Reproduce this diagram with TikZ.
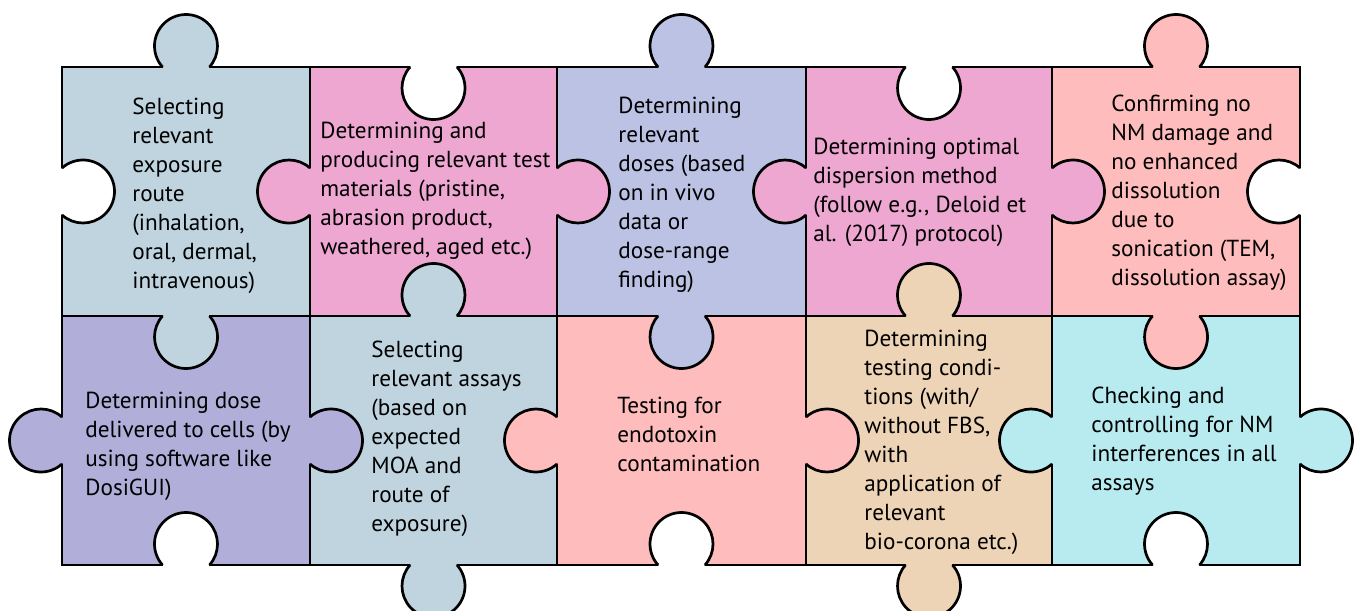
\documentclass[tikz,border=0pt]{standalone}
\usepackage{fontspec}
\setmainfont{PT Sans}
\usepackage{tikz}
\usepackage{xcolor}
\usetikzlibrary{calc}
\definecolor{ExposureBlue}{HTML}{BFD4DF}
\definecolor{MaterialPink}{HTML}{EDA7D1}
\definecolor{DoseLavender}{HTML}{BCC2E3}
\definecolor{SonicationRose}{HTML}{FEBCBC}
\definecolor{DosimetryPurple}{HTML}{B1AFD9}
\definecolor{ConditionPeach}{HTML}{EED4B7}
\definecolor{InterferenceCyan}{HTML}{B8EBF0}
\tikzstyle{PuzzleBorder} =[draw=black,line width=1.35pt]
\tikzstyle{PieceText} =[anchor=west,align=left,inner sep=0pt,font=\fontsize{11.6}{14.5}\selectfont]
\newcommand{\CreatePuzzleKnob}[3]{
    \fill[#3] let \p{knob_centre}=($(#1)+(#2:21)$) in (\p{knob_centre}) circle[radius=31.5];
    \draw[PuzzleBorder] let \p{knob_centre}=($(#1)+(#2:21)$),
        \p{knob_start}=($(\p{knob_centre})+(#2-131.8:31.5)$)
        in (\p{knob_start}) arc[start angle=#2-131.8, end angle=#2+131.8, radius=31.5];}

\begin{document}
\begin{tikzpicture}[x=0.5pt,y=-0.5pt]
    \useasboundingbox (0,0) rectangle (1358,610);

    % upper row of pieces
    \filldraw[PuzzleBorder,fill=ExposureBlue] (62,67) rectangle (310,316);
    \filldraw[PuzzleBorder,fill=MaterialPink] (310,67) rectangle (557,316);
    \filldraw[PuzzleBorder,fill=DoseLavender] (557,67) rectangle (806,316);
    \filldraw[PuzzleBorder,fill=MaterialPink] (806,67) rectangle (1052,316);
    \filldraw[PuzzleBorder,fill=SonicationRose] (1052,67) rectangle (1300,316);
    % lower row of pieces
    \filldraw[PuzzleBorder,fill=DosimetryPurple] (62,316) rectangle (310,565);
    \filldraw[PuzzleBorder,fill=ExposureBlue] (310,316) rectangle (557,565);
    \filldraw[PuzzleBorder,fill=SonicationRose] (557,316) rectangle (806,565);
    \filldraw[PuzzleBorder,fill=ConditionPeach] (806,316) rectangle (1052,565);
    \filldraw[PuzzleBorder,fill=InterferenceCyan] (1052,316) rectangle (1300,565);

    % tabs and holes of the upper row
    \CreatePuzzleKnob{186,67}{270}{ExposureBlue}
    \CreatePuzzleKnob{62,191.5}{0}{white}
    \CreatePuzzleKnob{310,191.5}{180}{MaterialPink}
    \CreatePuzzleKnob{433.5,67}{90}{white}
    \CreatePuzzleKnob{557,191.5}{0}{MaterialPink}
    \CreatePuzzleKnob{681.5,67}{270}{DoseLavender}
    \CreatePuzzleKnob{806,191.5}{180}{MaterialPink}
    \CreatePuzzleKnob{929,67}{90}{white}
    \CreatePuzzleKnob{1052,191.5}{0}{MaterialPink}
    \CreatePuzzleKnob{1176,67}{270}{SonicationRose}
    \CreatePuzzleKnob{1300,191.5}{180}{white}
    % tabs between the rows
    \CreatePuzzleKnob{186,316}{90}{ExposureBlue}
    \CreatePuzzleKnob{433.5,316}{270}{ExposureBlue}
    \CreatePuzzleKnob{681.5,316}{90}{DoseLavender}
    \CreatePuzzleKnob{929,316}{270}{ConditionPeach}
    \CreatePuzzleKnob{1176,316}{90}{SonicationRose}
    % tabs and holes of the lower row
    \CreatePuzzleKnob{62,440.5}{180}{DosimetryPurple}
    \CreatePuzzleKnob{310,440.5}{0}{DosimetryPurple}
    \CreatePuzzleKnob{186,565}{270}{white}
    \CreatePuzzleKnob{557,440.5}{180}{SonicationRose}
    \CreatePuzzleKnob{433.5,565}{90}{ExposureBlue}
    \CreatePuzzleKnob{806,440.5}{0}{SonicationRose}
    \CreatePuzzleKnob{681.5,565}{270}{white}
    \CreatePuzzleKnob{1052,440.5}{180}{InterferenceCyan}
    \CreatePuzzleKnob{929,565}{90}{ConditionPeach}
    \CreatePuzzleKnob{1300,440.5}{0}{InterferenceCyan}
    \CreatePuzzleKnob{1176,565}{270}{white}

    \node[PieceText](Exposure-Route-Text) at (132,196){Selecting\\relevant\\exposure\\route\\(inhalation,\\oral, dermal,\\intravenous)};
    \node[PieceText](Test-Material-Text) at (320,191){Determining and\\producing relevant test\\materials (pristine,\\abrasion product,\\weathered, aged etc.)};
    \node[PieceText](Relevant-Dose-Text) at (618,195){Determining\\relevant\\doses (based\\on in vivo\\data or\\dose-range\\finding)};
    \node[PieceText](Dispersion-Text) at (813,192.5){Determining optimal\\dispersion method\\(follow e.g., Deloid et\\al. (2017) protocol)};
    \node[PieceText](Sonication-Text) at (1111,192.5){Confirming no\\NM damage and\\no enhanced\\dissolution\\due to\\sonication (TEM,\\dissolution assay)};

    \node[PieceText](Delivered-Dose-Text) at (85,446.5){Determining dose\\delivered to cells (by\\using software like\\DosiGUI)};
    \node[PieceText](Assay-Choice-Text) at (371,438.5){Selecting\\relevant assays\\(based on\\expected\\MOA and\\route of\\exposure)};
    \node[PieceText](Endotoxin-Text) at (617,434.5){Testing for\\endotoxin\\contamination};
    \node[PieceText](Test-Condition-Text) at (864,442){Determining\\testing condi-\\tions (with/\\without FBS,\\with\\application of\\relevant\\bio-corona etc.)};
    \node[PieceText](Interference-Text) at (1091,441.5){Checking and\\controlling for NM\\interferences in all\\assays};
\end{tikzpicture}
\end{document}
